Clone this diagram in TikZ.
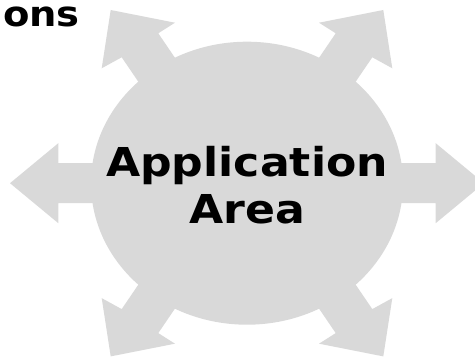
\documentclass[tikz,border=0pt]{standalone}
\usepackage{fontspec}
\setmainfont{DejaVu Sans}
\usetikzlibrary{shapes.geometric}
\definecolor{hubgray}{RGB}{217,217,217}

\begin{document}
\begin{tikzpicture}[
  x=1pt, y=-1pt,
  spoke/.style={fill=hubgray},
  hub/.style={ellipse, fill=hubgray, minimum width=312pt, minimum height=283pt, inner sep=0pt},
  caption/.style={font=\bfseries\fontsize{39.8}{46.6}\selectfont, align=center, inner sep=0pt}
]
\clip (0,0) rectangle (475,358);
\coordinate (c) at (247,183.2);
% left and right spokes
\foreach \s in {1,-1}
  \fill[spoke, shift={(c)}, xscale=\s] (-237,0) -- (-188.7,-40) -- (-188.7,-20) -- (-120,-20) -- (-120,20) -- (-188.7,20) -- (-188.7,40) -- cycle;
% diagonal spokes
\foreach \sx in {1,-1}
  \foreach \sy in {1,-1}
    \fill[spoke, shift={(c)}, xscale=\sx, yscale=\sy] (-136.3,-173.2) -- (-72,-160.5) -- (-88.7,-149.9) -- (-38.7,-76.4) -- (-75.3,-52.4) -- (-125.3,-125.9) -- (-145.3,-114.9) -- cycle;
\node[hub] (hub) at (c) {};
\node[caption] (title) at (247,190.7) {\scalebox{1.11}[1]{\begin{tabular}{@{}c@{}}Application\\Area\end{tabular}}};
\node[caption, font=\bfseries\fontsize{35}{40}\selectfont, anchor=base east] (cut) at (80,26.7) {\scalebox{1.1}[1]{ons}};
\end{tikzpicture}
\end{document}
